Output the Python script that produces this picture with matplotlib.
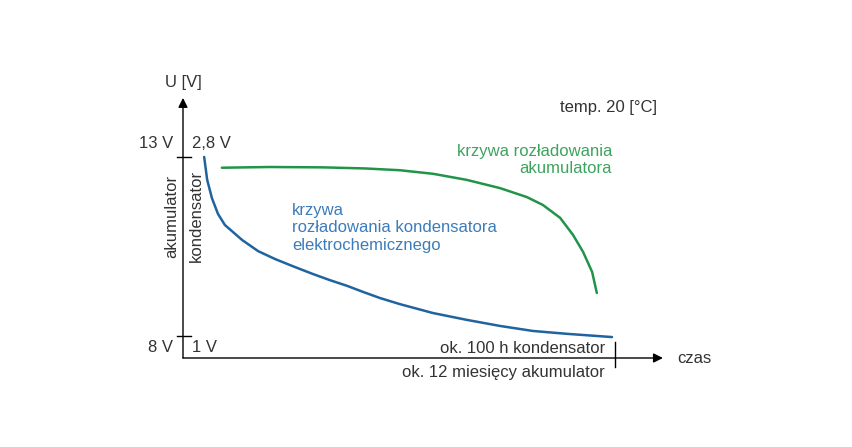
import numpy as np
import matplotlib.pyplot as plt

plt.rcParams['font.family'] = ['Liberation Sans', 'DejaVu Sans']

# time as fraction of full discharge time, voltage on the battery scale (8..13 V)
t_kond = [0.049, 0.056, 0.067, 0.081, 0.097, 0.137, 0.174, 0.213, 0.252, 0.301,
          0.340, 0.380, 0.417, 0.456, 0.502, 0.579, 0.657, 0.734, 0.810, 0.889,
          0.993]
u_kond = [13.00, 12.36, 11.85, 11.41, 11.10, 10.68, 10.37, 10.15, 9.96, 9.73,
          9.56, 9.40, 9.23, 9.06, 8.89, 8.64, 8.45, 8.28, 8.14, 8.06,
          7.97]

t_akum = [0.090, 0.201, 0.324, 0.421, 0.502, 0.579, 0.657, 0.734, 0.796, 0.833,
          0.873, 0.903, 0.926, 0.947, 0.958]
u_akum = [12.70, 12.72, 12.71, 12.68, 12.63, 12.53, 12.36, 12.13, 11.88, 11.66,
          11.30, 10.82, 10.35, 9.79, 9.20]

yticks = [13, 8]
ylab_akum = ['13 V', '8 V']
ylab_kond = ['2,8 V', '1 V']

txt = '#333333'
blue_line = '#1f639f'
blue_text = '#3c7cba'
green_line = '#22944a'
green_text = '#3da35d'

fig = plt.figure(figsize=(8.52, 4.47), dpi=100)
ax = fig.add_axes([0, 0, 1, 1])
ax.set_xlim(-0.4236, 1.5486)
ax.set_ylim(4.899, 17.385)
ax.axis('off')

y0 = 7.385   # x axis height
x_end = 1.111
y_top = 14.65
fs = 12

arrow = dict(arrowstyle='-|>', color='black', lw=1.0,
             mutation_scale=14, shrinkA=0, shrinkB=0)
ax.annotate('', xy=(x_end, y0), xytext=(0, y0), arrowprops=arrow)
ax.annotate('', xy=(0, y_top), xytext=(0, y0), arrowprops=arrow)

# y ticks: 13 V labels above tick, 8 V labels below tick
for yv in yticks:
    ax.plot([-0.015, 0.018], [yv, yv], color='black', lw=1.0)
ax.text(-0.023, 13.39, ylab_akum[0], ha='right', va='center', fontsize=fs, color=txt)
ax.text(0.021, 13.39, ylab_kond[0], ha='left', va='center', fontsize=fs, color=txt)
ax.text(-0.023, 7.69, ylab_akum[1], ha='right', va='center', fontsize=fs, color=txt)
ax.text(0.021, 7.69, ylab_kond[1], ha='left', va='center', fontsize=fs, color=txt)

# end-of-time tick
ax.plot([1.0, 1.0], [7.13, 7.83], color='black', lw=1.0)

ax.text(0.0, 15.07, 'U [V]', ha='center', va='center', fontsize=fs, color=txt)
ax.text(-0.025, 11.35, 'akumulator', rotation=90, ha='center', va='center',
        fontsize=fs, color=txt)
ax.text(0.030, 11.35, 'kondensator', rotation=90, ha='center', va='center',
        fontsize=fs, color=txt)
ax.text(1.144, y0, 'czas', ha='left', va='center', fontsize=fs, color=txt)
ax.text(0.977, 7.66, 'ok. 100 h kondensator', ha='right', va='center',
        fontsize=fs, color=txt)
ax.text(0.977, 6.99, 'ok. 12 miesięcy akumulator', ha='right', va='center',
        fontsize=fs, color=txt)
ax.text(1.097, 14.37, 'temp. 20 [°C]', ha='right', va='center', fontsize=fs, color=txt)

ax.plot(t_kond, u_kond, color=blue_line, lw=1.8, solid_capstyle='round',
        solid_joinstyle='round')
ax.plot(t_akum, u_akum, color=green_line, lw=1.8, solid_capstyle='round',
        solid_joinstyle='round')

ax.text(0.993, 12.92, 'krzywa rozładowania\nakumulatora', ha='right', va='center',
        multialignment='right', fontsize=fs, color=green_text)
ax.text(0.252, 11.02, 'krzywa\nrozładowania kondensatora\nelektrochemicznego',
        ha='left', va='center', fontsize=fs, color=blue_text)

fig.savefig('out.png', dpi=100, facecolor='white')
